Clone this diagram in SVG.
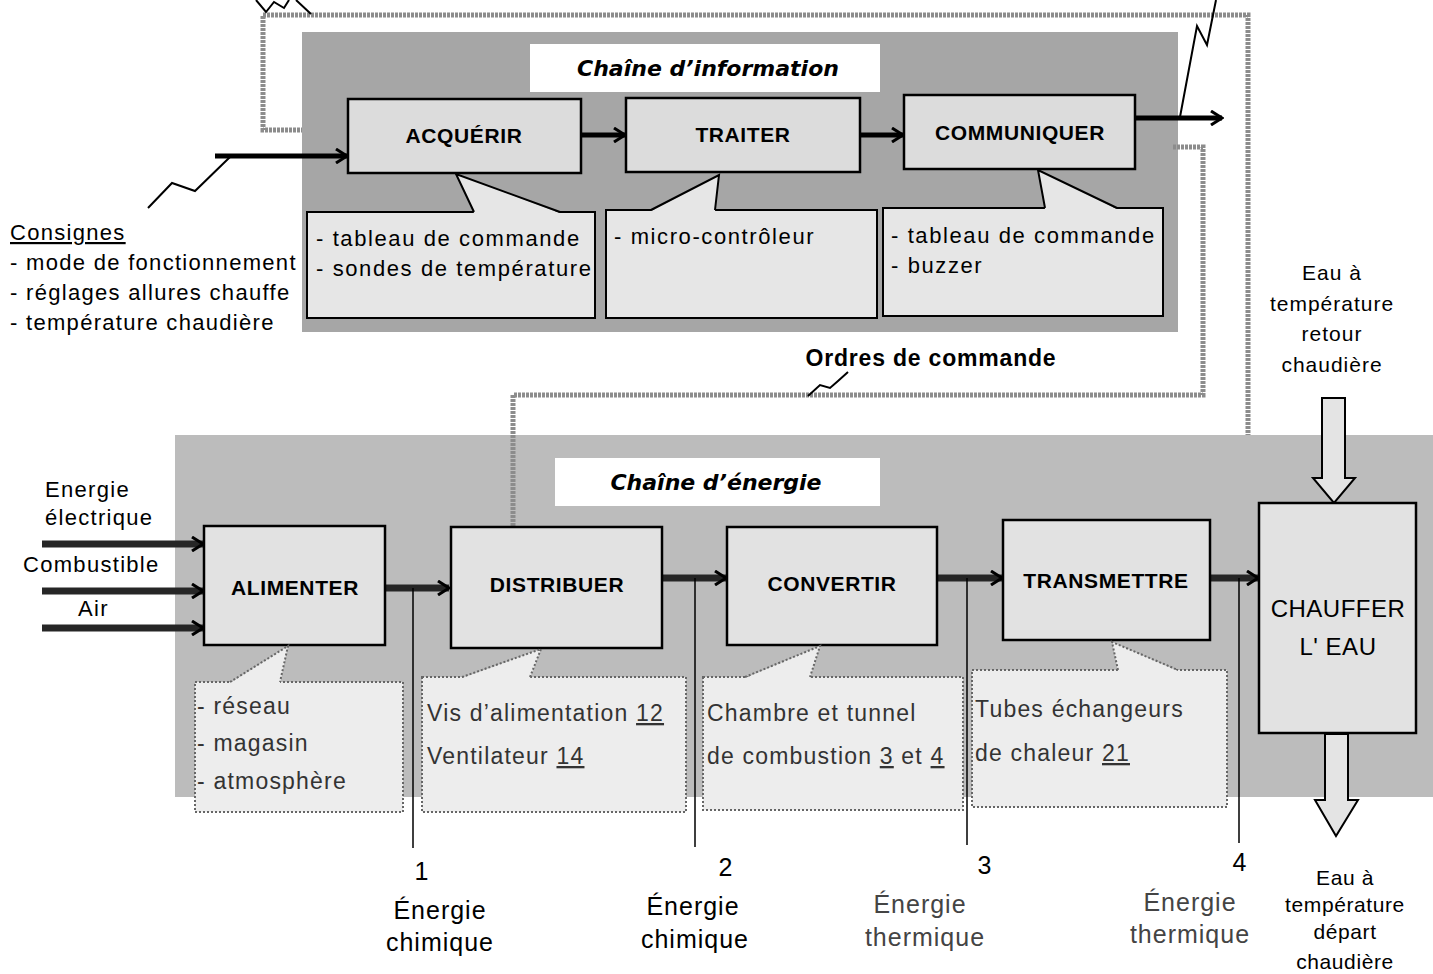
<svg xmlns="http://www.w3.org/2000/svg" width="1433" height="974" viewBox="0 0 1433 974">
<style>
text{font-family:"Liberation Sans",Arial,sans-serif;fill:#000}
.lbl{font-size:21px;font-weight:bold;text-anchor:middle;letter-spacing:0.6px}
.info{font-size:22px;letter-spacing:1.6px}
.en{font-size:23px;fill:#333;letter-spacing:1.2px}
.side{font-size:22px;letter-spacing:1.3px}
.title{font-family:"DejaVu Sans",sans-serif;font-size:22px;font-style:italic;font-weight:bold;text-anchor:middle}
.bot{font-size:25px;text-anchor:middle;letter-spacing:1px}
.wat{font-size:21px;text-anchor:middle;letter-spacing:1px}
.wat2{font-size:21px;text-anchor:middle;letter-spacing:0.6px}
.ibox{fill:#dcdcdc;stroke:#000;stroke-width:2.5}
.ebox{fill:#e2e2e2;stroke:#000;stroke-width:2.5}
.icall{fill:#e6e6e6;stroke:#000;stroke-width:2}
.ecall{fill:#ededed;stroke:#666;stroke-width:2;stroke-dasharray:2 2}
.loop{fill:none;stroke:#8c8c8c;stroke-width:5;stroke-dasharray:3 1}
.ia{fill:none;stroke:#000;stroke-width:5;marker-end:url(#chev)}
.ea{fill:none;stroke:#262626;stroke-width:7;marker-end:url(#chev)}
.thin{fill:none;stroke:#000;stroke-width:1.5}
.zig{fill:none;stroke:#000;stroke-width:2}
.big{fill:#e4e4e4;stroke:#000;stroke-width:2}
</style>
<defs>
<marker id="chev" viewBox="0 0 16 16" refX="14" refY="8" markerWidth="16" markerHeight="16" orient="auto" markerUnits="userSpaceOnUse">
<path d="M3,1 L14,8 L3,15" fill="none" stroke="#000" stroke-width="3"/>
</marker>
</defs>
<rect width="1433" height="974" fill="#fff"/>

<!-- backgrounds -->
<g id="feedback-loop">
<path class="loop" d="M348,130 H263 V15 H1248 V436"/>
</g>
<g id="info-chain">
<rect x="302" y="32" width="876" height="300" fill="#a6a6a6"/>
<rect x="530" y="44" width="350" height="48" fill="#fff"/>
<text class="title" x="708" y="76">Chaîne d’information</text>
</g>
<g id="energy-chain">
<rect x="175" y="435" width="1258" height="362" fill="#bcbcbc"/>
<rect x="555" y="458" width="325" height="48" fill="#fff"/>
<text class="title" x="716" y="490">Chaîne d’énergie</text>
</g>

<!-- connectors -->
<g id="connectors">
<path class="loop" d="M1173,147 H1203 V395 H513 V527"/>
<path class="ia" d="M215,156 H347"/>
<path class="ia" d="M581,135 H625"/>
<path class="ia" d="M860,135 H903"/>
<path class="ia" d="M1135,118 H1222"/>
<path class="ea" d="M42,544 H203"/>
<path class="ea" d="M42,591 H203"/>
<path class="ea" d="M42,628 H203"/>
<path class="ea" d="M385,588 H449"/>
<path class="ea" d="M662,578 H726"/>
<path class="ea" d="M937,578 H1002"/>
<path class="ea" d="M1210,578 H1258"/>
<path class="thin" d="M413,588 V848 M695,578 V847 M967,578 V845 M1239,578 V843"/>
<path class="zig" d="M148,208 L172,183 L195,191 L230,157"/>
<path class="zig" d="M1180,117 L1197,26 L1207,45 L1216,0"/>
<path class="zig" d="M256,0 L266,12 L274,2 L284,8 L289,0 M296,0 L311,14"/>
<path class="zig" d="M808,396 L820,385 L830,388 L838,381 L848,372"/>
<path class="big" d="M1322,398 H1345 V478 H1355 L1334,503 L1313,478 H1322 Z"/>
<path class="big" d="M1325,734 H1348 V800 H1358 L1336,836 L1315,800 H1325 Z"/>
</g>

<!-- info chain nodes -->
<g id="acquerir">
<rect class="ibox" x="348" y="99" width="233" height="74"/>
<text class="lbl" x="464" y="143">ACQUÉRIR</text>
</g>
<g id="traiter">
<rect class="ibox" x="626" y="98" width="234" height="74"/>
<text class="lbl" x="743" y="142">TRAITER</text>
</g>
<g id="communiquer">
<rect class="ibox" x="904" y="95" width="231" height="74"/>
<text class="lbl" x="1020" y="140">COMMUNIQUER</text>
</g>
<g id="callout-acquerir">
<rect class="icall" x="307" y="212" width="288" height="106"/>
<path d="M456,174 L474,213 L560,213 Z" fill="#e6e6e6"/>
<path class="thin" d="M474,212 L456,174 L560,212" style="stroke-width:2"/>
<text class="info" x="316" y="246">- tableau de commande</text>
<text class="info" x="316" y="276">- sondes de température</text>
</g>
<g id="callout-traiter">
<rect class="icall" x="606" y="210" width="271" height="108"/>
<path d="M719,175 L651,211 L715,211 Z" fill="#e6e6e6"/>
<path class="thin" d="M651,210 L719,175 L715,210" style="stroke-width:2"/>
<text class="info" x="614" y="244">- micro-contrôleur</text>
</g>
<g id="callout-communiquer">
<rect class="icall" x="883" y="208" width="280" height="108"/>
<path d="M1038,170 L1045,209 L1117,209 Z" fill="#e6e6e6"/>
<path class="thin" d="M1045,208 L1038,170 L1117,208" style="stroke-width:2"/>
<text class="info" x="891" y="243">- tableau de commande</text>
<text class="info" x="891" y="273">- buzzer</text>
</g>

<!-- side texts -->
<g id="consignes">
<text class="side" x="10" y="240" text-decoration="underline">Consignes</text>
<text class="side" x="10" y="270">- mode de fonctionnement</text>
<text class="side" x="10" y="300">- réglages allures chauffe</text>
<text class="side" x="10" y="330">- température chaudière</text>
</g>
<g id="ordres">
<text x="931" y="366" style="font-size:23px;font-weight:bold;text-anchor:middle;letter-spacing:0.8px">Ordres de commande</text>
</g>
<g id="eau-retour">
<text class="wat" x="1332" y="280">Eau à</text>
<text class="wat" x="1332" y="311">température</text>
<text class="wat" x="1332" y="341">retour</text>
<text class="wat" x="1332" y="372">chaudière</text>
</g>
<g id="inputs">
<text class="side" x="45" y="497">Energie</text>
<text class="side" x="45" y="525">électrique</text>
<text class="side" x="23" y="572">Combustible</text>
<text class="side" x="78" y="616">Air</text>
</g>

<!-- energy chain nodes -->
<g id="alimenter">
<rect class="ebox" x="204" y="526" width="181" height="119"/>
<text class="lbl" x="295" y="595">ALIMENTER</text>
</g>
<g id="distribuer">
<rect class="ebox" x="451" y="527" width="211" height="121"/>
<text class="lbl" x="557" y="592">DISTRIBUER</text>
</g>
<g id="convertir">
<rect class="ebox" x="727" y="527" width="210" height="118"/>
<text class="lbl" x="832" y="591">CONVERTIR</text>
</g>
<g id="transmettre">
<rect class="ebox" x="1003" y="520" width="207" height="120"/>
<text class="lbl" x="1106" y="588">TRANSMETTRE</text>
</g>
<g id="chauffer">
<rect class="ebox" x="1259" y="503" width="157" height="230"/>
<text x="1338" y="617" style="font-size:24px;text-anchor:middle;letter-spacing:0.5px">CHAUFFER</text>
<text x="1338" y="655" style="font-size:24px;text-anchor:middle;letter-spacing:0.5px">L' EAU</text>
</g>

<g id="callout-alimenter">
<rect class="ecall" x="195" y="682" width="208" height="130"/>
<path d="M288,646 L230,683 L280,683 Z" fill="#ededed"/>
<path d="M230,682 L288,646 L280,682" fill="none" stroke="#666" stroke-width="2" stroke-dasharray="2 2"/>
<text class="en" x="197" y="714">- réseau</text>
<text class="en" x="197" y="751">- magasin</text>
<text class="en" x="197" y="789">- atmosphère</text>
</g>
<g id="callout-distribuer">
<rect class="ecall" x="422" y="677" width="264" height="135"/>
<path d="M541,649 L462,678 L530,678 Z" fill="#ededed"/>
<path d="M462,677 L541,649 L530,677" fill="none" stroke="#666" stroke-width="2" stroke-dasharray="2 2"/>
<text class="en" x="427" y="721">Vis d’alimentation <tspan text-decoration="underline">12</tspan></text>
<text class="en" x="427" y="764">Ventilateur <tspan text-decoration="underline">14</tspan></text>
</g>
<g id="callout-convertir">
<rect class="ecall" x="703" y="677" width="260" height="133"/>
<path d="M820,646 L745,678 L810,678 Z" fill="#ededed"/>
<path d="M745,677 L820,646 L810,677" fill="none" stroke="#666" stroke-width="2" stroke-dasharray="2 2"/>
<text class="en" x="707" y="721">Chambre et tunnel</text>
<text class="en" x="707" y="764">de combustion <tspan text-decoration="underline">3</tspan> et <tspan text-decoration="underline">4</tspan></text>
</g>
<g id="callout-transmettre">
<rect class="ecall" x="972" y="670" width="255" height="137"/>
<path d="M1112,642 L1118,671 L1178,671 Z" fill="#ededed"/>
<path d="M1118,670 L1112,642 L1178,670" fill="none" stroke="#666" stroke-width="2" stroke-dasharray="2 2"/>
<text class="en" x="975" y="717">Tubes échangeurs</text>
<text class="en" x="975" y="761">de chaleur <tspan text-decoration="underline">21</tspan></text>
</g>

<!-- bottom labels -->
<g id="point-1">
<text class="bot" x="422" y="880">1</text>
<text class="bot" x="440" y="919">Énergie</text>
<text class="bot" x="440" y="951">chimique</text>
</g>
<g id="point-2">
<text class="bot" x="726" y="876">2</text>
<text class="bot" x="693" y="915">Énergie</text>
<text class="bot" x="695" y="948">chimique</text>
</g>
<g id="point-3">
<text class="bot" x="985" y="874">3</text>
<text class="bot" x="920" y="913" style="fill:#444">Énergie</text>
<text class="bot" x="925" y="946" style="fill:#444">thermique</text>
</g>
<g id="point-4">
<text class="bot" x="1240" y="871">4</text>
<text class="bot" x="1190" y="911" style="fill:#444">Énergie</text>
<text class="bot" x="1190" y="943" style="fill:#444">thermique</text>
</g>
<g id="eau-depart">
<text class="wat2" x="1345" y="885">Eau à</text>
<text class="wat2" x="1345" y="912">température</text>
<text class="wat2" x="1345" y="939">départ</text>
<text class="wat2" x="1345" y="969">chaudière</text>
</g>
</svg>
